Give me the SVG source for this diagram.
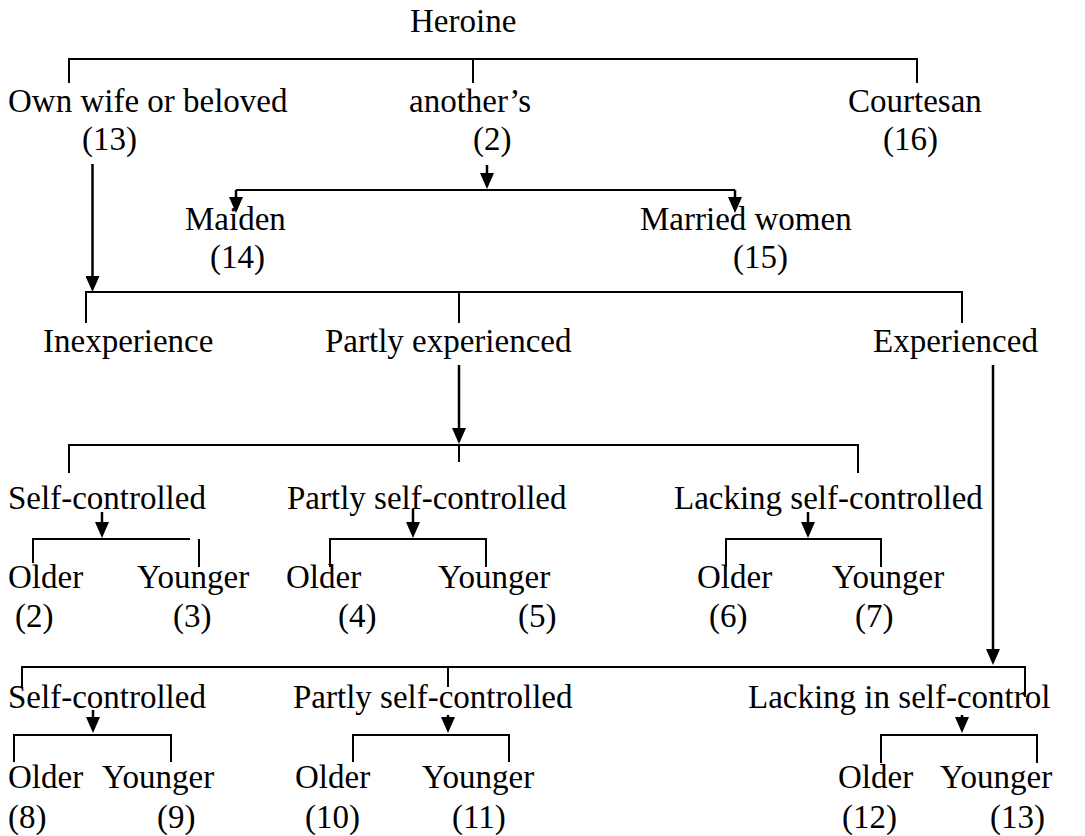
<svg xmlns="http://www.w3.org/2000/svg" width="1085" height="836" viewBox="0 0 1085 836">
<style>
text{font-family:"Liberation Serif","Times New Roman",serif;font-size:33px;fill:#000}
.ln{fill:none;stroke:#000;stroke-width:2}
.ar{fill:none;stroke:#000;stroke-width:2.5;marker-end:url(#ah)}
</style>
<defs>
<marker id="ah" viewBox="0 0 16 14" markerWidth="16" markerHeight="14" refX="12" refY="7" orient="auto" markerUnits="userSpaceOnUse">
<path d="M0,0 L16,7 L0,14 Z" fill="#000"/>
</marker>
</defs>
<rect width="1085" height="836" fill="#fff"/>
<g id="connectors">
<path class="ln" d="M69,83 V59 H917 V83 M473,59 V83"/>
<path class="ar" d="M92.5,164 V288"/>
<path class="ar" d="M487,165 V185"/>
<path class="ln" d="M236,190 H735"/>
<path class="ar" d="M236,190 V209"/>
<path class="ar" d="M735,190 V209"/>
<path class="ln" d="M86,323 V292 H962 V323 M459,292 V323"/>
<path class="ar" d="M459,365 V440"/>
<path class="ln" d="M69,473 V445 H858 V473 M459,445 V462"/>
<path class="ar" d="M993,365 V661"/>
<path class="ar" d="M102,512 V534"/>
<path class="ln" d="M33,563 V539 H190 M199,539 V567"/>
<path class="ar" d="M413,509 V534"/>
<path class="ln" d="M330,567 V539 H486 V567"/>
<path class="ar" d="M808,512 V534"/>
<path class="ln" d="M726,567 V539 H881 V567"/>
<path class="ln" d="M22,688 V667 H1025 V697 M448,667 V687"/>
<path class="ar" d="M93,710 V729"/>
<path class="ln" d="M14,762 V735 H171 V762"/>
<path class="ar" d="M448,715 V729"/>
<path class="ln" d="M353,762 V735 H509 V762"/>
<path class="ar" d="M962,715 V729"/>
<path class="ln" d="M881,763 V735 H1037 V763"/>
</g>
<g id="heroine"><text x="410" y="32">Heroine</text></g>
<g id="own"><text x="8" y="112">Own wife or beloved</text><text x="82" y="150">(13)</text></g>
<g id="another"><text x="409" y="112">another’s</text><text x="473" y="150">(2)</text></g>
<g id="courtesan"><text x="848" y="112">Courtesan</text><text x="883" y="150">(16)</text></g>
<g id="maiden"><text x="185" y="230">Maiden</text><text x="210" y="268">(14)</text></g>
<g id="married"><text x="640" y="230">Married women</text><text x="733" y="268">(15)</text></g>
<g id="inexperience"><text x="43" y="352">Inexperience</text></g>
<g id="partly-exp"><text x="325" y="352">Partly experienced</text></g>
<g id="experienced"><text x="873" y="352">Experienced</text></g>
<g id="pe-self"><text x="8" y="509">Self-controlled</text></g>
<g id="pe-partly"><text x="287" y="509">Partly self-controlled</text></g>
<g id="pe-lacking"><text x="674" y="509">Lacking self-controlled</text></g>
<g id="pe-self-older"><text x="8" y="588">Older</text><text x="15" y="627">(2)</text></g>
<g id="pe-self-younger"><text x="137" y="588">Younger</text><text x="173" y="627">(3)</text></g>
<g id="pe-partly-older"><text x="286" y="588">Older</text><text x="338" y="627">(4)</text></g>
<g id="pe-partly-younger"><text x="438" y="588">Younger</text><text x="518" y="627">(5)</text></g>
<g id="pe-lacking-older"><text x="697" y="588">Older</text><text x="709" y="627">(6)</text></g>
<g id="pe-lacking-younger"><text x="832" y="588">Younger</text><text x="855" y="627">(7)</text></g>
<g id="ex-self"><text x="8" y="708">Self-controlled</text></g>
<g id="ex-partly"><text x="293" y="708">Partly self-controlled</text></g>
<g id="ex-lacking"><text x="748" y="708">Lacking in self-control</text></g>
<g id="ex-self-older"><text x="8" y="788">Older</text><text x="8" y="828">(8)</text></g>
<g id="ex-self-younger"><text x="102" y="788">Younger</text><text x="157" y="828">(9)</text></g>
<g id="ex-partly-older"><text x="295" y="788">Older</text><text x="305" y="828">(10)</text></g>
<g id="ex-partly-younger"><text x="422" y="788">Younger</text><text x="452" y="828">(11)</text></g>
<g id="ex-lacking-older"><text x="838" y="788">Older</text><text x="842" y="828">(12)</text></g>
<g id="ex-lacking-younger"><text x="940" y="788">Younger</text><text x="990" y="828">(13)</text></g>
</svg>
